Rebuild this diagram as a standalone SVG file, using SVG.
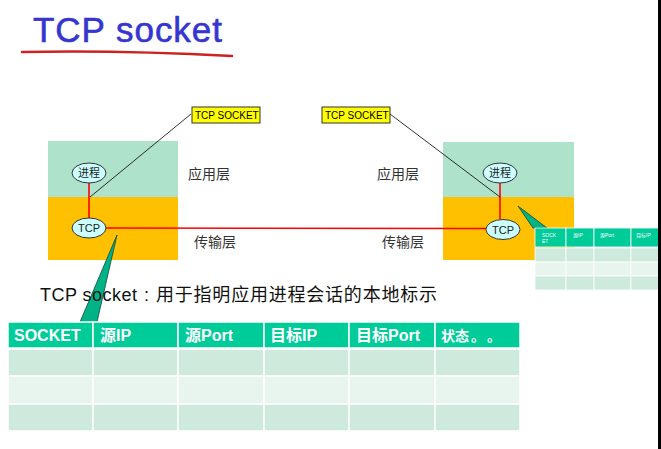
<svg xmlns="http://www.w3.org/2000/svg" width="661" height="449" viewBox="0 0 661 449">
<style>
.app{fill:#aee2cb}
.tr{fill:#ffc000}
.ell{fill:#ccffff;stroke:#333;stroke-width:1}
.et{font-family:"Liberation Sans","Noto Sans CJK SC",sans-serif;font-size:11px;fill:#222;text-anchor:middle}
.lay{font-family:"Noto Sans CJK SC",sans-serif;font-size:14px;fill:#333}
.red{stroke:#ff0000;stroke-width:1.6;fill:none}
.blk{stroke:#000;stroke-width:0.8;fill:none}
.lbl{fill:#ffff00;stroke:#333;stroke-width:1}
.lt{font-family:"Liberation Sans",sans-serif;font-size:10px;fill:#000}
.hd{fill:#00cc99}
.r1{fill:#cdeadd}
.r2{fill:#e8f5ee}
.ht{font-family:"Liberation Sans","Noto Sans CJK SC",sans-serif;font-size:16px;font-weight:bold;fill:#fff}
.st{font-family:"Liberation Sans","Noto Sans CJK SC",sans-serif;font-size:5px;fill:#fff}
.call{fill:#00b386;stroke:#0a4a3a;stroke-width:0.8}
.cap{font-family:"Liberation Sans","Noto Sans CJK SC",sans-serif;font-size:18px;fill:#111}
</style>
<g id="title">
<text x="33" y="42" font-family="Liberation Sans, sans-serif" font-size="35" fill="#3535d0" stroke="#3535d0" stroke-width="0.6" textLength="189" lengthAdjust="spacing">TCP socket</text>
<path d="M22 52 Q120 50 232 56" stroke="#cc2222" stroke-width="2.5" fill="none" stroke-linecap="round"/>
</g>
<g id="host-left">
<rect class="app" x="48" y="141" width="130" height="56"/>
<rect class="tr" x="48" y="197" width="130" height="63"/>
</g>
<g id="host-right">
<rect class="app" x="443" y="142" width="131" height="55"/>
<rect class="tr" x="443" y="197" width="131" height="63"/>
</g>
<g id="connectors">
<line class="red" x1="89" y1="183" x2="89" y2="218"/>
<line class="red" x1="500" y1="183" x2="500" y2="219"/>
<line class="red" x1="106" y1="228" x2="486" y2="228.5"/>
<line class="blk" x1="191" y1="114" x2="90" y2="197"/>
<line class="blk" x1="390" y1="114" x2="500" y2="197"/>
</g>
<g id="proc-left"><ellipse class="ell" cx="89" cy="173" rx="17" ry="10"/><text class="et" x="89" y="177">进程</text></g>
<g id="tcp-left"><ellipse class="ell" cx="89" cy="228" rx="17" ry="10"/><text class="et" x="89" y="232">TCP</text></g>
<g id="proc-right"><ellipse class="ell" cx="500" cy="173" rx="17" ry="10"/><text class="et" x="500" y="177">进程</text></g>
<g id="tcp-right"><ellipse class="ell" cx="503" cy="229.5" rx="17" ry="10"/><text class="et" x="503" y="233.5">TCP</text></g>
<g id="layers">
<text class="lay" x="188" y="179">应用层</text>
<text class="lay" x="194" y="247">传输层</text>
<text class="lay" x="377" y="179">应用层</text>
<text class="lay" x="382" y="247">传输层</text>
</g>
<g id="label-left"><rect class="lbl" x="192" y="107" width="68" height="16"/><text class="lt" x="195" y="119">TCP SOCKET</text></g>
<g id="label-right"><rect class="lbl" x="322" y="107" width="68" height="16"/><text class="lt" x="325" y="119">TCP SOCKET</text></g>
<g id="callouts">
<polygon class="call" points="117,235 80,322 97,322"/>
<polygon class="call" points="518,206 533,228 547,228"/>
</g>
<g id="caption">
<text class="cap" x="40" y="301"><tspan textLength="97" lengthAdjust="spacing">TCP socket</tspan><tspan x="144">:</tspan><tspan x="156" textLength="281" lengthAdjust="spacing">用于指明应用进程会话的本地标示</tspan></text>
</g>
<g id="table-main" stroke="#fff" stroke-width="1.5">
<rect class="hd" x="8" y="322" width="85" height="26"/><rect class="hd" x="93" y="322" width="85" height="26"/><rect class="hd" x="178" y="322" width="86" height="26"/><rect class="hd" x="264" y="322" width="85" height="26"/><rect class="hd" x="349" y="322" width="86" height="26"/><rect class="hd" x="435" y="322" width="85" height="26"/>
<rect class="r1" x="8" y="349" width="85" height="27"/><rect class="r1" x="93" y="349" width="85" height="27"/><rect class="r1" x="178" y="349" width="86" height="27"/><rect class="r1" x="264" y="349" width="85" height="27"/><rect class="r1" x="349" y="349" width="86" height="27"/><rect class="r1" x="435" y="349" width="85" height="27"/>
<rect class="r2" x="8" y="376" width="85" height="28"/><rect class="r2" x="93" y="376" width="85" height="28"/><rect class="r2" x="178" y="376" width="86" height="28"/><rect class="r2" x="264" y="376" width="85" height="28"/><rect class="r2" x="349" y="376" width="86" height="28"/><rect class="r2" x="435" y="376" width="85" height="28"/>
<rect class="r1" x="8" y="404" width="85" height="27"/><rect class="r1" x="93" y="404" width="85" height="27"/><rect class="r1" x="178" y="404" width="86" height="27"/><rect class="r1" x="264" y="404" width="85" height="27"/><rect class="r1" x="349" y="404" width="86" height="27"/><rect class="r1" x="435" y="404" width="85" height="27"/>
</g>
<g id="table-main-text">
<text class="ht" x="14" y="341">SOCKET</text>
<text class="ht" x="100" y="341">源IP</text>
<text class="ht" x="185" y="341">源Port</text>
<text class="ht" x="270" y="341">目标IP</text>
<text class="ht" x="356" y="341">目标Port</text>
<text class="ht" x="441" y="341"><tspan font-size="14">状态</tspan><tspan x="471" font-size="14">。</tspan><tspan x="487" font-size="14">。</tspan></text>
</g>
<g id="table-small" stroke="#fff" stroke-width="0.8">
<rect class="hd" x="535" y="228" width="31" height="19"/><rect class="hd" x="566" y="228" width="28" height="19"/><rect class="hd" x="594" y="228" width="37" height="19"/><rect class="hd" x="631" y="228" width="30" height="19"/>
<rect class="r1" x="535" y="248" width="31" height="14"/><rect class="r1" x="566" y="248" width="28" height="14"/><rect class="r1" x="594" y="248" width="37" height="14"/><rect class="r1" x="631" y="248" width="30" height="14"/>
<rect class="r2" x="535" y="262" width="31" height="14"/><rect class="r2" x="566" y="262" width="28" height="14"/><rect class="r2" x="594" y="262" width="37" height="14"/><rect class="r2" x="631" y="262" width="30" height="14"/>
<rect class="r1" x="535" y="276" width="31" height="14"/><rect class="r1" x="566" y="276" width="28" height="14"/><rect class="r1" x="594" y="276" width="37" height="14"/><rect class="r1" x="631" y="276" width="30" height="14"/>
</g>
<g id="table-small-text">
<text class="st" x="542" y="237">SOCK</text>
<text class="st" x="542" y="243">ET</text>
<text class="st" x="573" y="237">源IP</text>
<text class="st" x="600" y="237">源Port</text>
<text class="st" x="636" y="237">目标IP</text>
</g>
<rect x="658" y="0" width="3" height="449" fill="#000"/>
</svg>
